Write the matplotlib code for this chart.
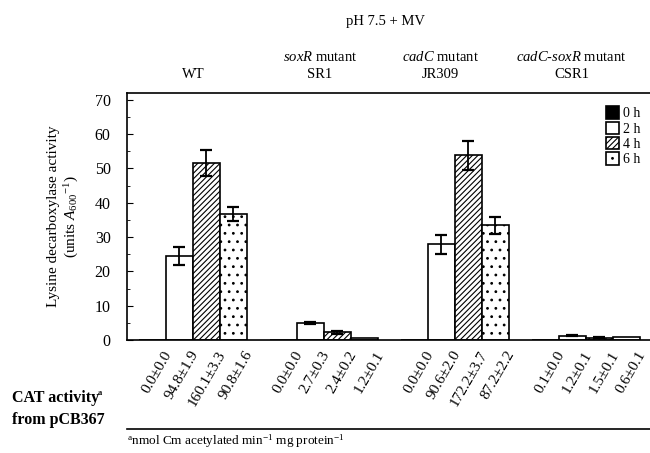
import numpy as np
import matplotlib.pyplot as plt
from matplotlib.lines import Line2D

plt.rcParams['font.family'] = ['Liberation Serif', 'DejaVu Serif']
plt.rcParams['mathtext.fontset'] = 'custom'
plt.rcParams['mathtext.rm'] = 'Liberation Serif'
plt.rcParams['mathtext.it'] = 'Liberation Serif:italic'
plt.rcParams['hatch.linewidth'] = 0.8

# Данные
strains = ['WT', 'SR1', 'JR309', 'CSR1']
times = ['0 h', '2 h', '4 h', '6 h']
ldc = np.array([[0.0, 24.6, 51.5, 36.8],
                [0.0, 4.9, 2.2, 0.7],
                [0.0, 27.9, 53.8, 33.5],
                [0.0, 1.3, 0.7, 0.8]])
ldc_err = np.array([[0.0, 2.6, 3.8, 2.0],
                    [0.0, 0.3, 0.3, 0.0],
                    [0.0, 2.7, 4.2, 2.5],
                    [0.0, 0.2, 0.2, 0.0]])
cat_labels = [['0.0±0.0', '94.8±1.9', '160.1±3.3', '90.8±1.6'],
              ['0.0±0.0', '2.7±0.3', '2.4±0.2', '1.2±0.1'],
              ['0.0±0.0', '90.6±2.0', '172.2±3.7', '87.2±2.2'],
              ['0.1±0.0', '1.2±0.1', '1.5±0.1', '0.6±0.1']]
group_top = ['', '$\\it{soxR}$ mutant', '$\\it{cadC}$ mutant', '$\\it{cadC}$-$\\it{soxR}$ mutant']
group_bottom = ['WT', 'SR1', 'JR309', 'CSR1']

colors = ['black', 'white', 'white', 'white']
hatches = [None, None, '//////', '..']

fig = plt.figure(figsize=(6.5, 4.53), dpi=100)
ax = fig.add_axes([0.196, 0.2494, 0.806, 0.5453])

x = np.arange(len(strains))
w = 0.206
for i in range(4):
    pos = x + (i - 1.5) * w
    ax.bar(pos, ldc[:, i], w, color=colors[i], edgecolor='black',
           hatch=hatches[i], linewidth=1.2, label=times[i])
    err = ldc_err[:, i]
    m = err > 0
    ax.errorbar(pos[m], ldc[m, i], yerr=err[m], fmt='none', ecolor='black',
                elinewidth=1.3, capsize=4, capthick=1.6)
    for j in range(4):
        ax.text(pos[j] + 0.08, -0.035, cat_labels[j][i], transform=ax.get_xaxis_transform(),
                rotation=60, rotation_mode='anchor', ha='right', va='top', fontsize=11)

ax.set_xlim(-0.5, 3.5)
ax.set_ylim(0, 72)
ax.set_xticks([])
ax.set_yticks(np.arange(0, 71, 10))
ax.set_yticks(np.arange(0, 71, 5), minor=True)
ax.tick_params(axis='y', direction='in', length=4, labelsize=11.5, pad=12)
ax.tick_params(axis='y', which='minor', direction='in', length=2)
ax.spines['right'].set_visible(False)
for s in ['left', 'top', 'bottom']:
    ax.spines[s].set_linewidth(1.2)
ax.set_ylabel('Lysine decarboxylase activity\n(units $\\it{A}_{600}$$^{-1}$)', fontsize=11, labelpad=10)

ax.legend(loc='upper right', bbox_to_anchor=(0.995, 0.98), frameon=False, fontsize=10,
          handlelength=0.9, handleheight=1.0, handletextpad=0.3, labelspacing=0.1,
          borderaxespad=0.2)

# Подписи над графиком
ax.text(1.47, 1.29, 'pH 7.5 + MV', transform=ax.get_xaxis_transform(), ha='center', va='center', fontsize=10.5)
label_x = [0.0, 0.97, 1.89, 2.89]
for j in range(4):
    if group_top[j]:
        ax.text(label_x[j], 1.145, group_top[j], transform=ax.get_xaxis_transform(),
                ha='center', va='center', fontsize=10.5)
    ax.text(label_x[j], 1.075, group_bottom[j], transform=ax.get_xaxis_transform(),
            ha='center', va='center', fontsize=10.5)

# Подписи снизу
fig.text(0.018, 0.121, 'CAT activity', fontsize=11.5, fontweight='bold', va='center')
fig.text(0.151, 0.132, 'a', fontsize=6, fontweight='bold', va='center')
fig.text(0.018, 0.073, 'from pCB367', fontsize=11.5, fontweight='bold', va='center')
fig.add_artist(Line2D([0.195, 1.0], [0.052, 0.052], color='black', linewidth=1.2))
fig.text(0.196, 0.025, '$^{\\mathrm{a}}$nmol Cm acetylated min$^{\\mathrm{-1}}$ mg protein$^{\\mathrm{-1}}$',
         fontsize=9.5, va='center')

plt.savefig('out.png', dpi=100)
